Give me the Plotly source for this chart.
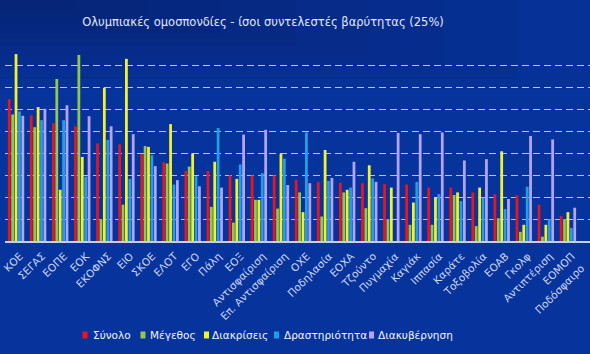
import plotly.graph_objects as go

# ---------------- data ----------------
categories = ["ΚΟΕ", "ΣΕΓΑΣ", "ΕΟΠΕ", "ΕΟΚ", "ΕΚΟΦΝΣ", "ΕΙΟ", "ΣΚΟΕ", "ΕΛΟΤ", "ΕΓΟ",
              "Πάλη", "ΕΟΞ", "Αντισφαίριση", "Επ. Αντισφαίριση", "ΟΧΕ", "Ποδηλασία",
              "ΕΟΧΑ", "Τζούντο", "Πυγμαχία", "Καγιάκ", "Ιππασία", "Καράτε", "Τοξοβολία",
              "ΕΟΑΒ", "Γκολφ", "Αντιπτέριση", "ΕΟΜΟΠ", "Ποδόσφαιρο"]

synolo        = [32.4, 28.7, 26.9, 26.2, 22.3, 22.1, 19.9, 18.0, 16.0, 16.0, 15.0, 15.0, 15.0,
                 14.0, 13.5, 13.3, 13.2, 13.0, 12.9, 12.2, 12.2, 11.1, 10.7, 10.5, 8.3, 5.7, None]
megethos      = [28.9, 26.0, 37.0, 42.5, 5.0, 8.3, 21.7, 17.7, 17.0, 7.8, 4.2, 9.4, 7.4,
                 11.1, 5.6, 11.1, 7.5, 5.0, 3.7, 3.7, 10.5, 3.4, 5.2, 2.1, 1.0, 5.0, None]
diakriseis    = [42.7, 30.6, 11.7, 19.2, 35.0, 41.6, 21.5, 26.7, 20.0, 18.1, 14.2, 9.4, 19.9,
                 6.6, 20.8, 11.7, 17.3, 12.2, 8.8, 10.0, 11.1, 12.2, 20.5, 3.7, 3.7, 6.6, None]
drastiriotita = [29.6, 27.6, 27.6, 14.7, 23.1, 14.2, 19.6, 12.9, 14.8, 25.8, 17.5, 15.5, 18.8,
                 24.8, 13.7, 12.2, 14.3, 0.0, 13.5, 10.7, 9.1, 9.9, 7.3, 12.4, 5.0, 3.0, None]
diakyvernisi  = [28.6, 30.2, 31.0, 28.5, 26.2, 24.4, 17.1, 13.9, 12.5, 12.2, 24.3, 25.4, 12.8,
                 13.2, 14.4, 18.1, 13.5, 24.7, 24.4, 24.8, 18.4, 18.7, 9.6, 24.0, 23.2, 7.6, None]

series_names = ["Σύνολο", "Μέγεθος", "Διακρίσεις", "Δραστηριότητα", "Διακυβέρνηση"]
series_values = [synolo, megethos, diakriseis, drastiriotita, diakyvernisi]
colors = ["#e8141e", "#94c84c", "#f2f22c", "#1fa0e6", "#b2a4f2"]

title_text = "Ολυμπιακές ομοσπονδίες - ίσοι συντελεστές βαρύτητας (25%)"

# ---------------- layout geometry ----------------
W, H = 590, 354
ML, MR, MT, MB = 5, 0, 44, 113


def paper_x(px):
    return (px - ML) / (W - ML - MR)


def paper_y(py):
    return (H - MB - py) / (H - MT - MB)


tick_font = dict(family="DejaVu Sans", size=10.5, color="#cdd6f4")

fig = go.Figure()
for name, vals, col in zip(series_names, series_values, colors):
    fig.add_trace(go.Bar(x=categories, y=vals, name=name, marker_color=col,
                         marker_line_width=0, showlegend=False))

shapes = []
# subtle background shading: darker towards the top-left corner
for k in range(1, 9):
    shapes.append(dict(type="rect", xref="paper", yref="paper", layer="below",
                       x0=paper_x(0), x1=paper_x(W * k / 8),
                       y0=paper_y(90 * k / 8), y1=paper_y(0),
                       fillcolor="rgba(10,20,60,0.05)", line_width=0))

annotations = []
# last category label sits at the right edge: drawn as an annotation so it stays inside
annotations.append(dict(text=categories[-1], xref="paper", yref="paper",
                        x=paper_x(589), y=paper_y(259), xanchor="right", yanchor="top",
                        textangle=-45, showarrow=False, font=tick_font))

# manual legend (small squares + text)
legend_sq_x = [82.5, 140.5, 204, 274, 369]
legend_tx_x = [90.5, 148, 210.5, 281.5, 376]
legend_y = 335
for name, col, sx, tx in zip(series_names, colors, legend_sq_x, legend_tx_x):
    shapes.append(dict(type="rect", xref="paper", yref="paper",
                       x0=paper_x(sx), x1=paper_x(sx + 5),
                       y0=paper_y(legend_y + 3.5), y1=paper_y(legend_y - 3.5),
                       fillcolor=col, line_width=0))
    annotations.append(dict(text=name, xref="paper", yref="paper",
                            x=paper_x(tx), y=paper_y(legend_y),
                            xanchor="left", yanchor="middle", showarrow=False,
                            font=dict(family="DejaVu Sans", size=10.5, color="#f2f4fb")))

fig.update_layout(
    width=W, height=H,
    margin=dict(l=ML, r=MR, t=MT, b=MB, pad=0),
    paper_bgcolor="#06339c",
    plot_bgcolor="rgba(0,0,0,0)",
    barmode="group",
    bargap=0.23,
    bargroupgap=0.18,
    title=dict(text=title_text, x=263 / W, xref="container", xanchor="center",
               y=1 - 22 / H, yref="container", yanchor="middle",
               font=dict(family="DejaVu Sans", size=11.5, color="#e2e8f7")),
    xaxis=dict(range=[-0.5, 26.0], tickangle=-45, showgrid=False,
               tickmode="array", tickvals=categories[:-1], ticktext=categories[:-1],
               showline=True, linecolor="#c6cdef", linewidth=2,
               ticks="", automargin=False, ticklabelshift=4, ticklabelstandoff=3,
               tickfont=tick_font),
    yaxis=dict(range=[0, 45], dtick=5, showticklabels=False, zeroline=False,
               showgrid=True, gridcolor="#b4c4ee", gridwidth=1.4, griddash="7px,4px",
               automargin=False),
    shapes=shapes,
    annotations=annotations,
)

fig.write_html("out.html")
